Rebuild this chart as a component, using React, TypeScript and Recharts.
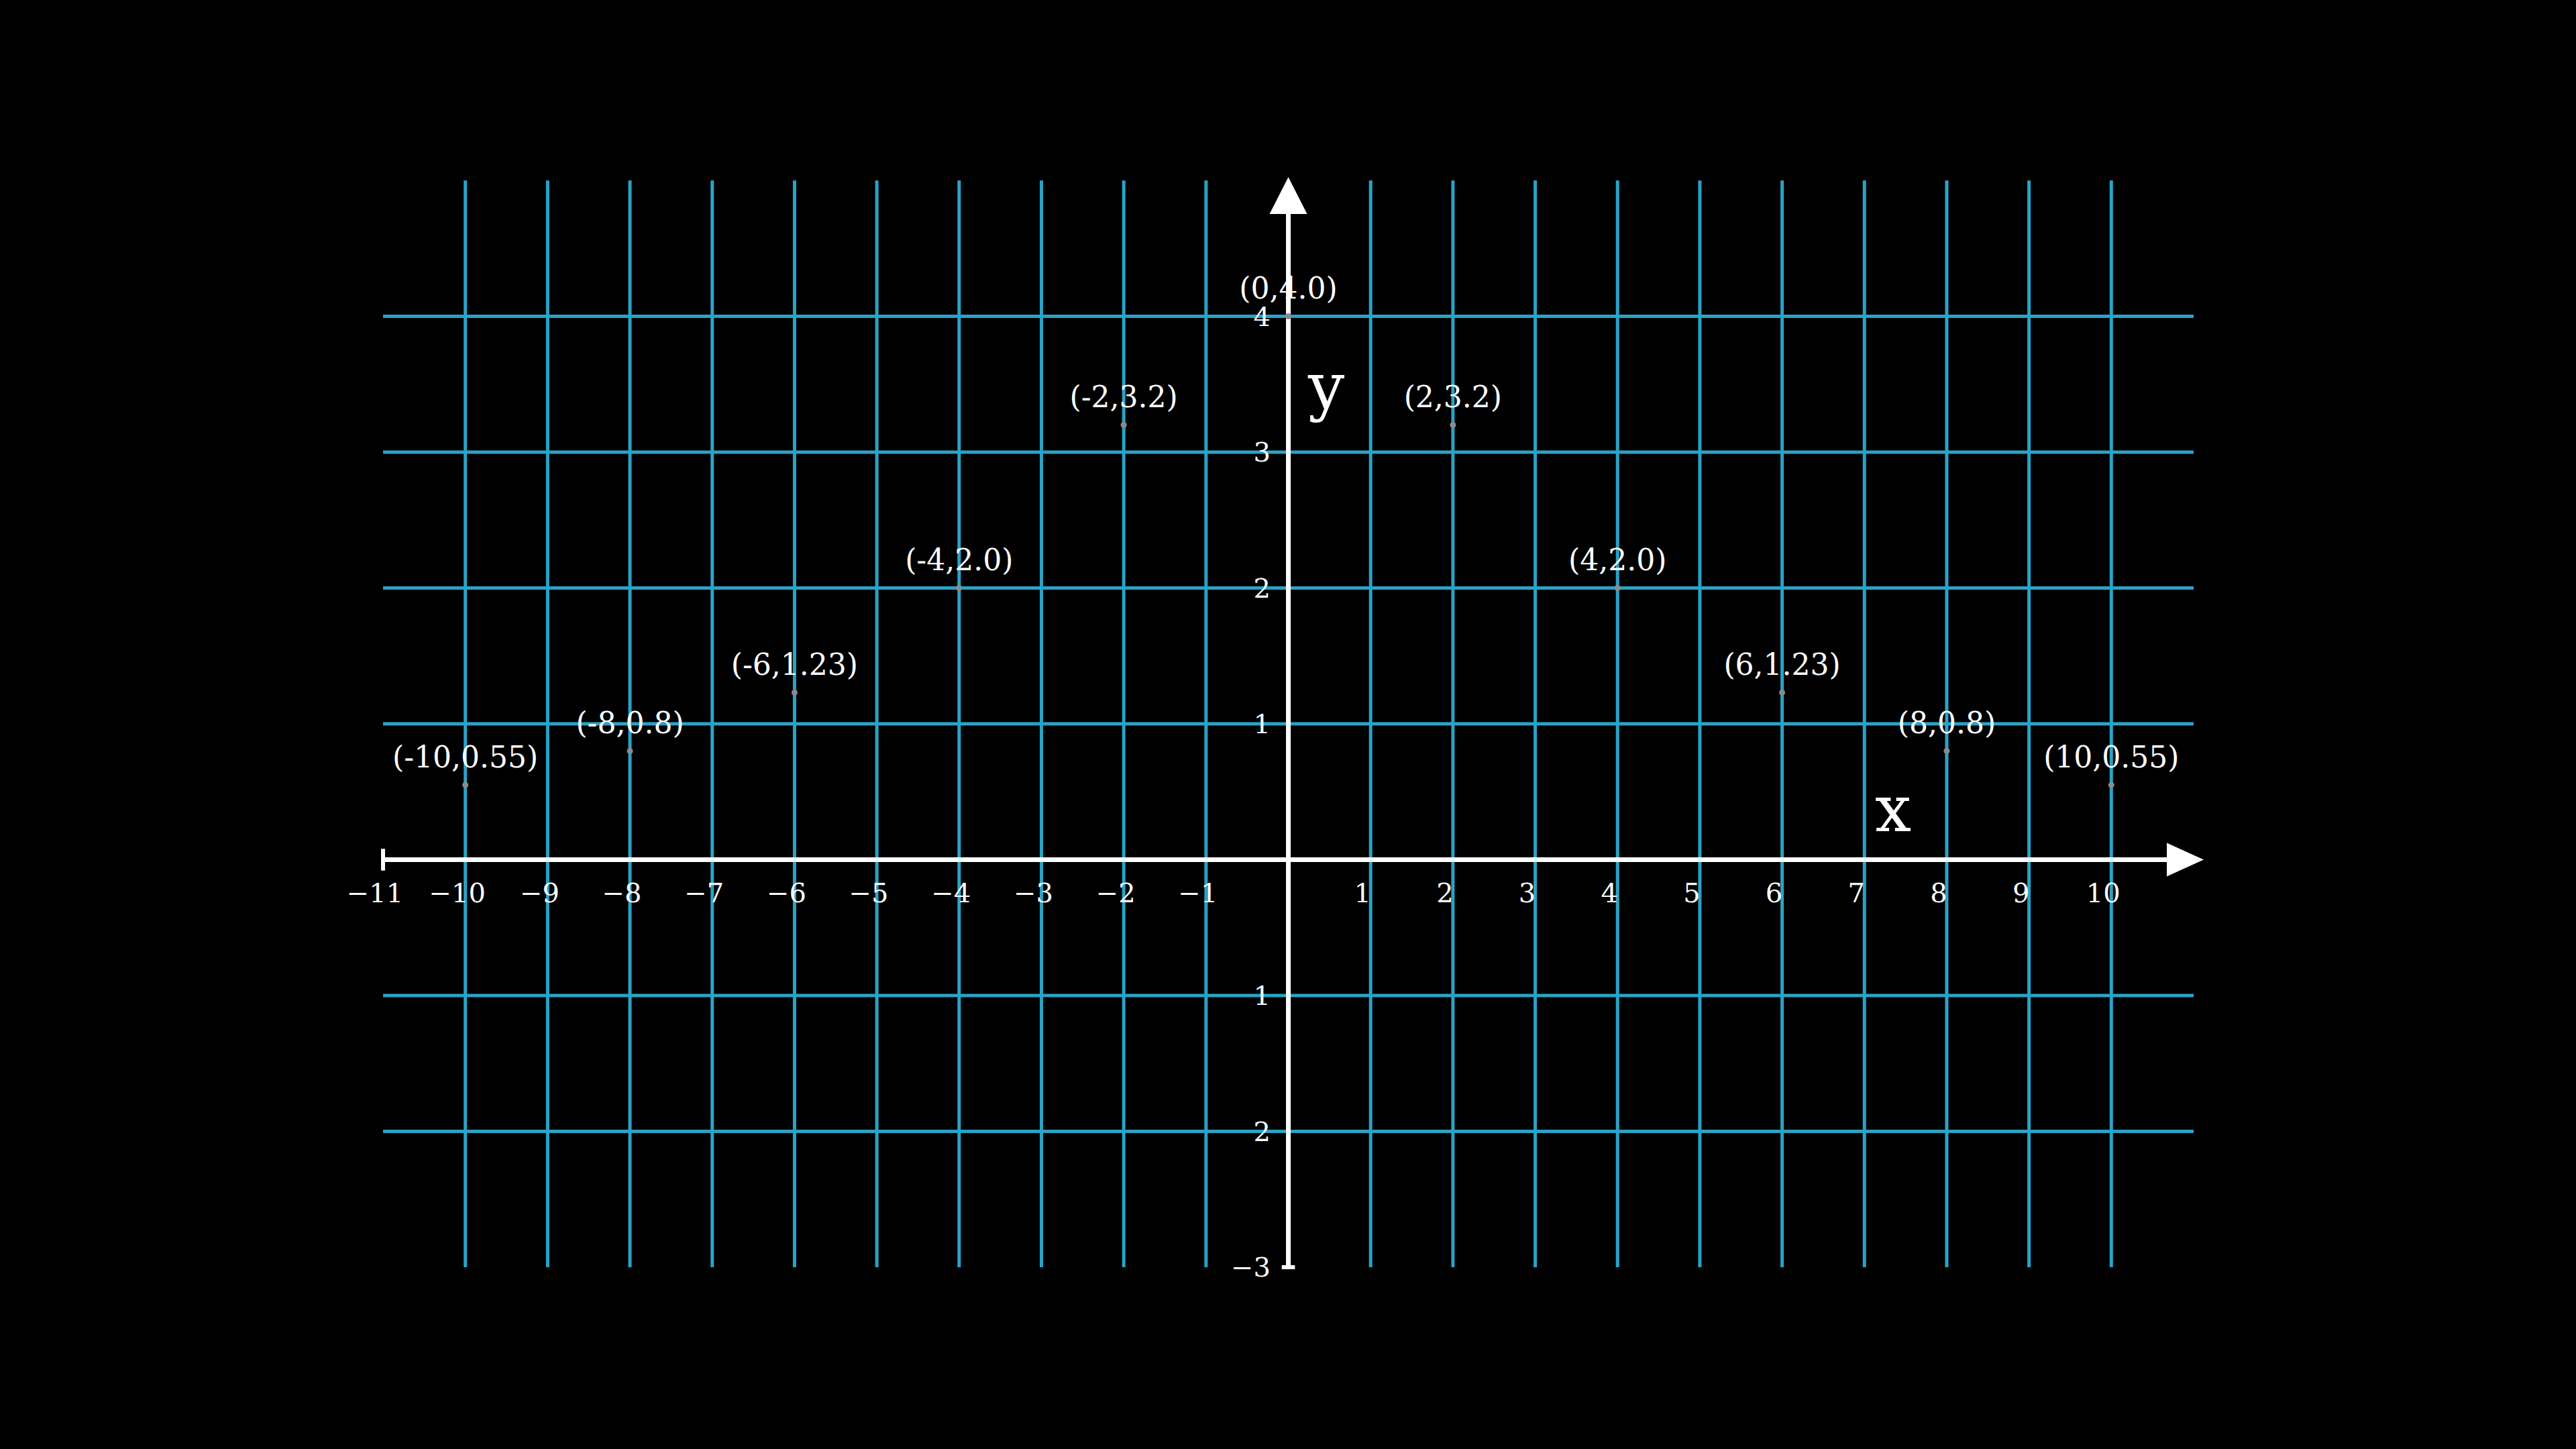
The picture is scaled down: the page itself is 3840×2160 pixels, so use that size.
import { ScatterChart, Scatter, XAxis, YAxis, ReferenceLine, ReferenceDot, LabelList } from "recharts";

const pointXs = [-10, -8, -6, -4, -2, 0, 2, 4, 6, 8, 10];
const pointYs = [0.55, 0.8, 1.23, 2.0, 3.2, 4.0, 3.2, 2.0, 1.23, 0.8, 0.55];
const pointLabels = ["(-10,0.55)", "(-8,0.8)", "(-6,1.23)", "(-4,2.0)", "(-2,3.2)", "(0,4.0)", "(2,3.2)", "(4,2.0)", "(6,1.23)", "(8,0.8)", "(10,0.55)"];

const gridXs = [-10, -9, -8, -7, -6, -5, -4, -3, -2, -1, 1, 2, 3, 4, 5, 6, 7, 8, 9, 10];
const gridYs = [-2, -1, 1, 2, 3, 4];

const xTicks = [-11, -10, -9, -8, -7, -6, -5, -4, -3, -2, -1, 1, 2, 3, 4, 5, 6, 7, 8, 9, 10];
const xTickLabels = ["−11", "−10", "−9", "−8", "−7", "−6", "−5", "−4", "−3", "−2", "−1", "1", "2", "3", "4", "5", "6", "7", "8", "9", "10"];
const yTicks = [-3, -2, -1, 1, 2, 3, 4];
const yTickLabels = ["−3", "2", "1", "1", "2", "3", "4"];

const points = pointXs.map((x, i) => ({ x, y: pointYs[i], label: pointLabels[i] }));
const xTickData = xTicks.map((x, i) => ({ x, y: 0, label: xTickLabels[i] }));
const yTickData = yTicks.map((y, i) => ({ x: 0, y, label: yTickLabels[i] }));

const FONT = "'DejaVu Serif', serif";
const GRID = "#29a3c6";

const XTickLabel = (props: any) => {
  const { x, y, width, value } = props;
  return (
    <text x={x + width / 2 - 12} y={y + 68} fill="#fff" fontSize={40} fontFamily={FONT} textAnchor="middle">
      {value}
    </text>
  );
};

const YTickLabel = (props: any) => {
  const { x, y, height, value } = props;
  return (
    <text x={x - 22} y={y + height / 2 + 14} fill="#fff" fontSize={40} fontFamily={FONT} textAnchor="end">
      {value}
    </text>
  );
};

const ArrowRight = (props: any) => {
  const { cx, cy } = props;
  return <polygon points={`${cx - 40},${cy - 25} ${cx + 15},${cy} ${cx - 40},${cy + 25}`} fill="#fff" />;
};

const ArrowUp = (props: any) => {
  const { cx, cy } = props;
  return <polygon points={`${cx - 28},${cy + 50} ${cx},${cy - 5} ${cx + 28},${cy + 50}`} fill="#fff" />;
};

export default function App() {
  return (
    <div style={{ position: "fixed", left: 0, top: 0, width: 3840, height: 2160, background: "#000" }}>
      <ScatterChart width={3840} height={2160} margin={{ top: 269, right: 570, bottom: 271, left: 571 }}>
        <XAxis type="number" dataKey="x" domain={[-11, 11]} hide />
        <YAxis type="number" dataKey="y" domain={[-3, 5]} hide />
        {gridXs.map((v) => (
          <ReferenceLine key={"gx" + v} x={v} stroke={GRID} strokeWidth={5} />
        ))}
        {gridYs.map((v) => (
          <ReferenceLine key={"gy" + v} y={v} stroke={GRID} strokeWidth={5} />
        ))}
        <ReferenceLine segment={[{ x: -11, y: 0 }, { x: 10.8, y: 0 }]} stroke="#fff" strokeWidth={7} />
        <ReferenceLine segment={[{ x: 0, y: -3 }, { x: 0, y: 4.8 }]} stroke="#fff" strokeWidth={7} />
        <ReferenceLine segment={[{ x: -11, y: -0.08 }, { x: -11, y: 0.08 }]} stroke="#fff" strokeWidth={6} />
        <ReferenceLine segment={[{ x: -0.08, y: -3 }, { x: 0.08, y: -3 }]} stroke="#fff" strokeWidth={6} />
        <ReferenceDot x={11} y={0} r={1} shape={ArrowRight} ifOverflow="visible" />
        <ReferenceDot x={0} y={5} r={1} shape={ArrowUp} ifOverflow="visible" />
        <Scatter data={xTickData} fill="none" shape={() => <g />} isAnimationActive={false}>
          <LabelList dataKey="label" content={XTickLabel} />
        </Scatter>
        <Scatter data={yTickData} fill="none" shape={() => <g />} isAnimationActive={false}>
          <LabelList dataKey="label" content={YTickLabel} />
        </Scatter>
        <Scatter data={points} fill="#8a8a8a" shape="circle" isAnimationActive={false}>
          <LabelList dataKey="label" position="top" offset={22} fill="#fff" fontSize={44} fontFamily={FONT} />
        </Scatter>
      </ScatterChart>
      <div style={{ position: "absolute", left: 2795, top: 1150, color: "#fff", fontSize: 96, fontFamily: FONT }}>x</div>
      <div style={{ position: "absolute", left: 1950, top: 520, color: "#fff", fontSize: 96, fontFamily: FONT }}>y</div>
    </div>
  );
}
